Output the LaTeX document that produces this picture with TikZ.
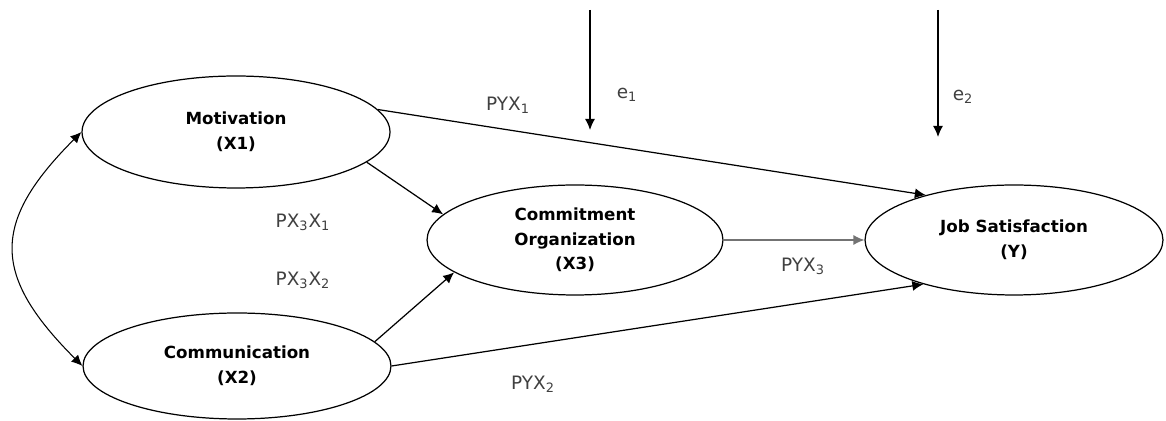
\documentclass[tikz,border=0pt]{standalone}
\usepackage{fontspec}
\setmainfont{DejaVu Sans}
\usetikzlibrary{shapes.geometric,arrows.meta}
\tikzset{
  latent/.style={ellipse, draw, line width=0.7pt, align=center,
    font=\fontsize{9.5}{14}\selectfont\bfseries},
  path/.style={->, line width=0.7pt},
  coef/.style={font=\fontsize{10.5}{12}\selectfont, text=black!75}
}
\begin{document}
\begin{tikzpicture}[x=0.02cm, y=-0.02cm, >={Latex[length=2.2mm,width=2mm]}]
        \useasboundingbox (0,0) rectangle (1166,421);
        % Latent variables
        \node[latent, minimum width=6.16cm, minimum height=2.24cm] (mot) at (236,132) {Motivation\\(X1)};
        \node[latent, minimum width=6.16cm, minimum height=2.12cm] (comm) at (237,366) {Communication\\(X2)};
        \node[latent, minimum width=5.92cm, minimum height=2.2cm] (cmt) at (575,240) {Commitment\\Organization\\(X3)};
        \node[latent, minimum width=5.96cm, minimum height=2.2cm] (js) at (1014,240) {Job Satisfaction\\(Y)};
        % Error terms
        \coordinate (e1top) at (590,10);
        \coordinate (e1end) at (590,130);
        \coordinate (e2top) at (938,10);
        \coordinate (e2end) at (938,137);
        \draw[path] (e1top) -- (e1end);
        \draw[path] (e2top) -- (e2end);
        \node[coef] (e1) at (627,95) {e\textsubscript{1}};
        \node[coef] (e2) at (963,97) {e\textsubscript{2}};
        % Paths
        \draw[path] (mot.9) -- (js.153);
        \draw[path] (mot.-13) -- (cmt.169);
        \draw[path] (comm.10) -- (cmt.195);
        \draw[path] (comm.east) -- (js.206);
        \draw[path, black!55] (cmt.east) -- (js.west);
        % Correlation between X1 and X2
        \draw[<->, line width=0.6pt] (mot.west) to[out=225, in=135, looseness=1.4] (comm.west);
        % Path coefficients
        \node[coef] (pyx1) at (508,105) {PYX\textsubscript{1}};
        \node[coef] (px3x1) at (303,222) {PX\textsubscript{3}X\textsubscript{1}};
        \node[coef] (px3x2) at (303,280) {PX\textsubscript{3}X\textsubscript{2}};
        \node[coef] (pyx3) at (803,266) {PYX\textsubscript{3}};
        \node[coef] (pyx2) at (533,384) {PYX\textsubscript{2}};
\end{tikzpicture}
\end{document}
